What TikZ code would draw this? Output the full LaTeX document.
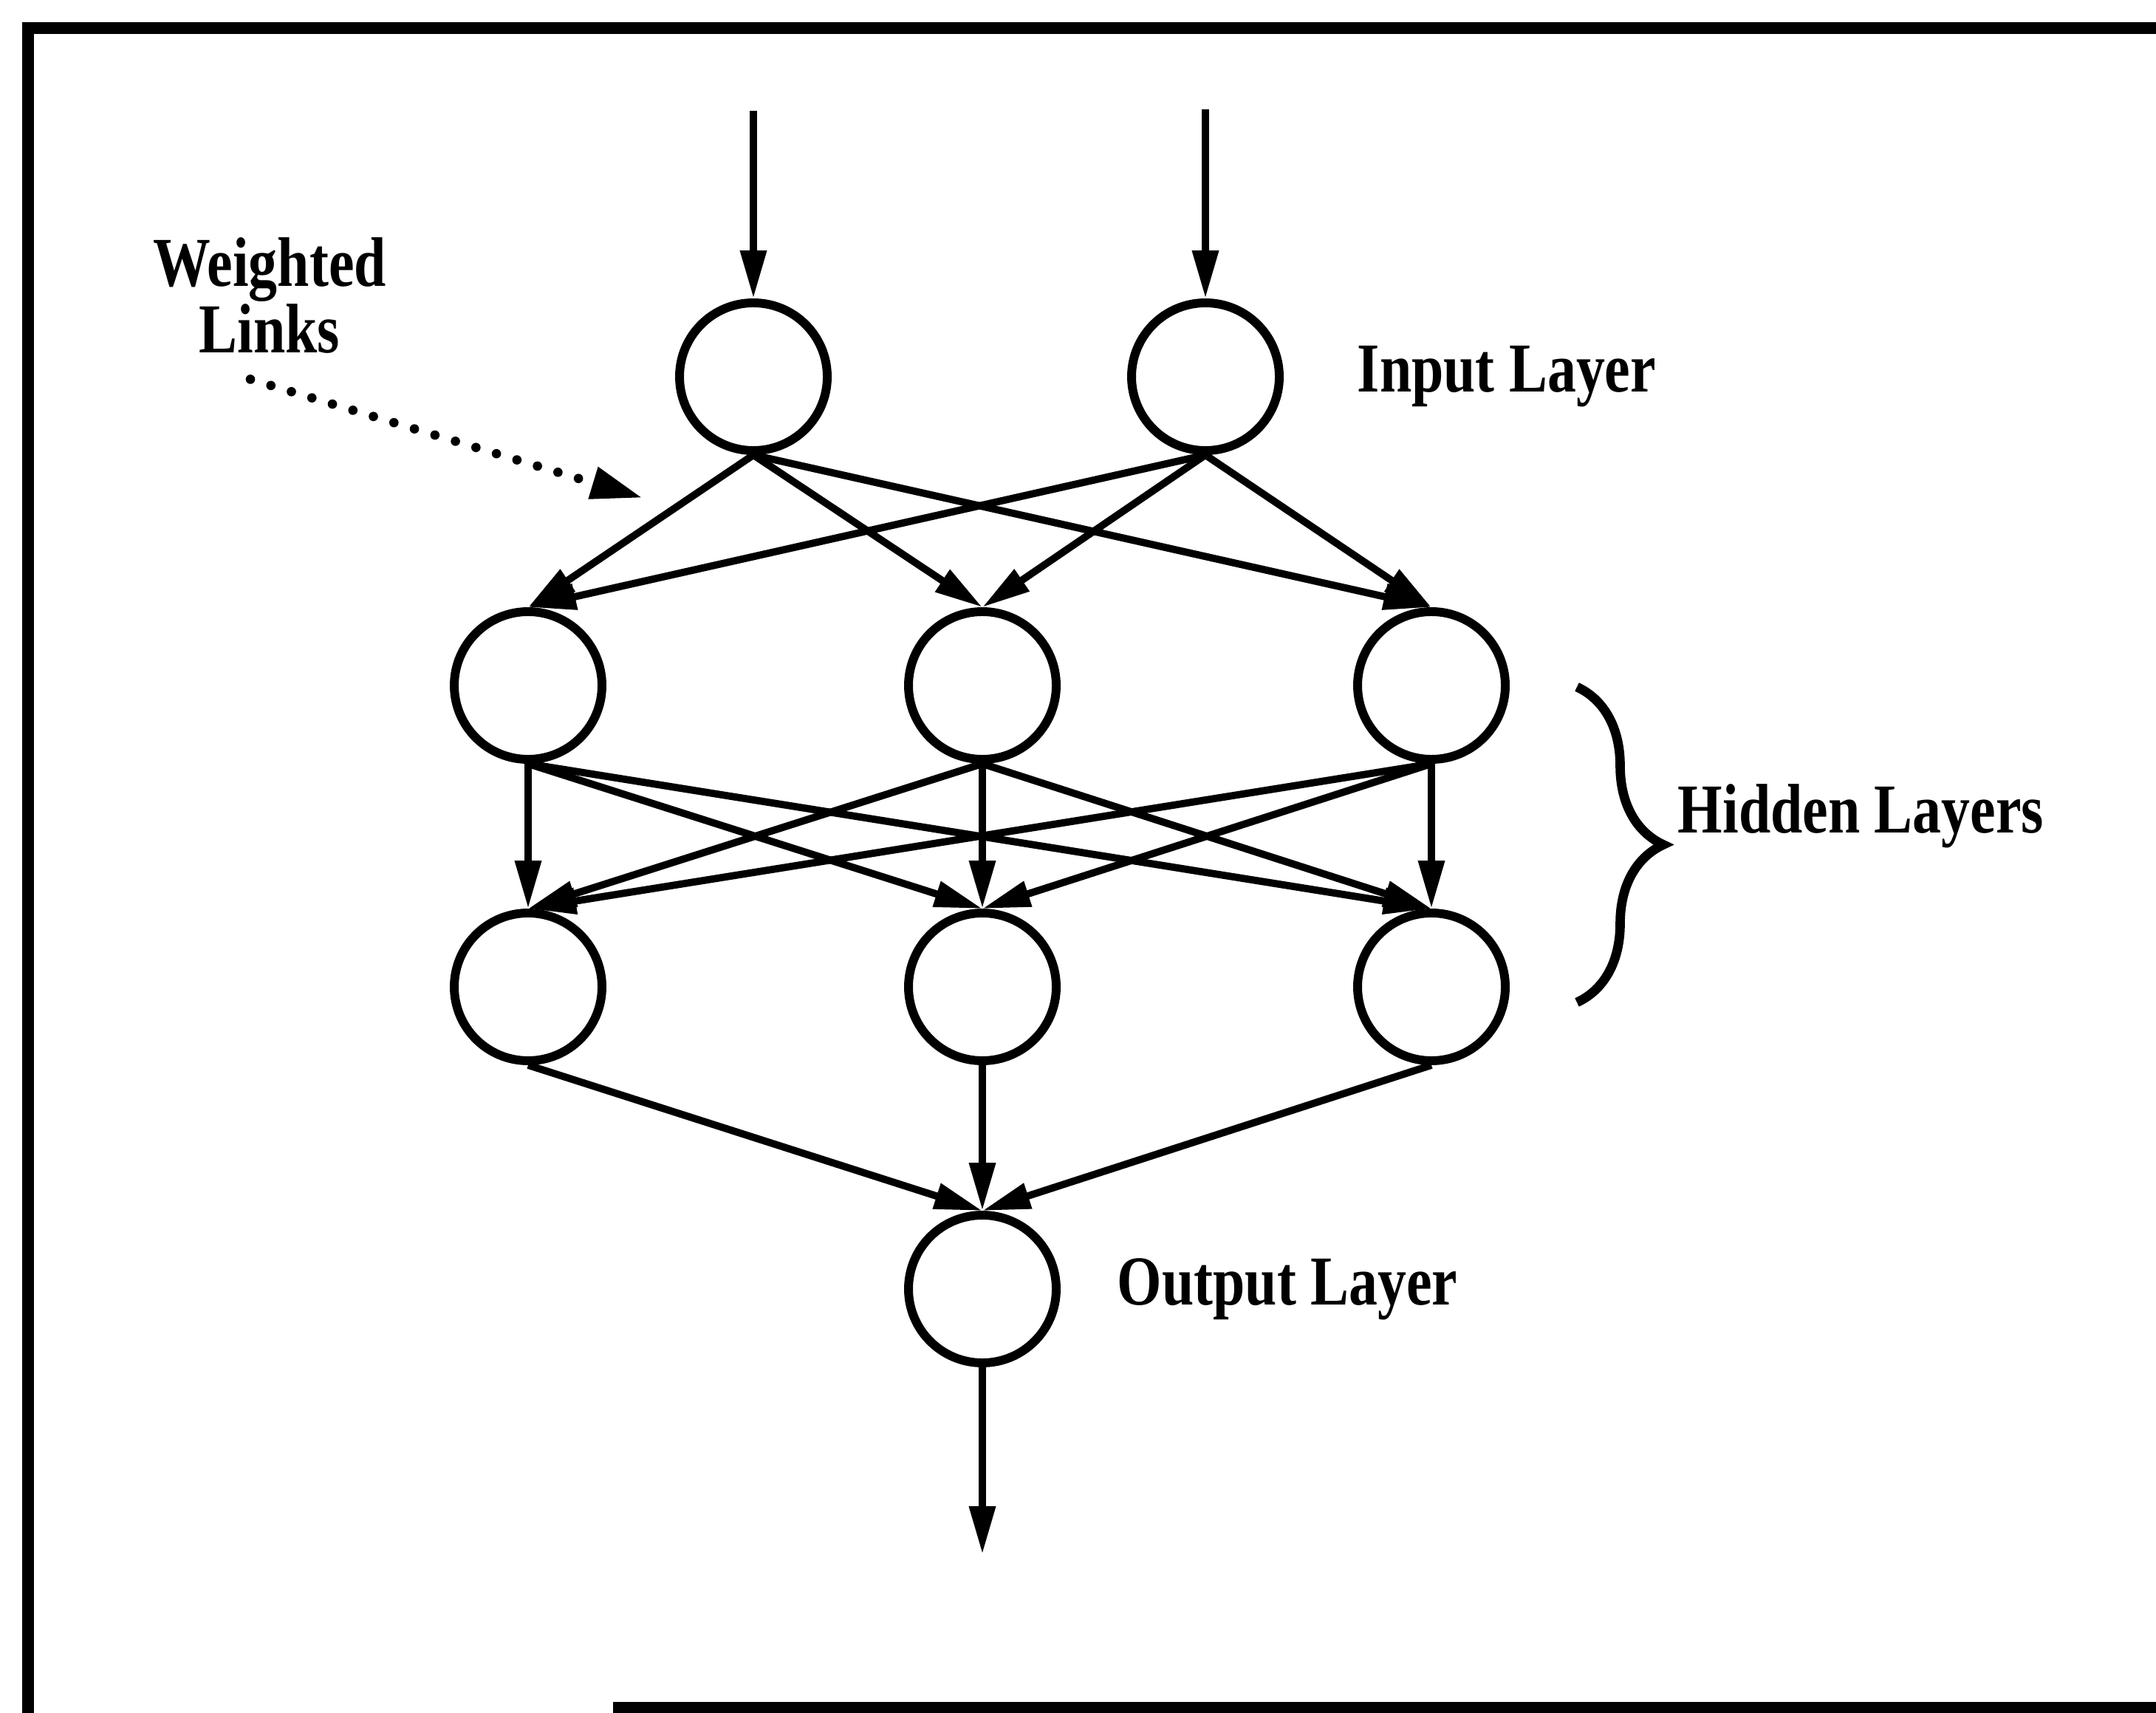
\documentclass[tikz,border=0pt]{standalone}
\usepackage{fontspec}
\setmainfont{Liberation Serif}[FakeStretch=0.82]
\usetikzlibrary{arrows.meta,positioning,decorations.pathreplacing}

\begin{document}
\begin{tikzpicture}[>={Triangle[length=6.5mm,width=3.4mm]}, line width=2.8pt]
\tikzstyle{neuron}=[draw, circle, line width=3.4pt, minimum size=2cm, inner sep=0pt]
\tikzstyle{lbl}=[font=\fontsize{27}{22}\selectfont\bfseries, inner sep=0pt]
\tikzstyle{frame}=[line width=4.3pt]
\tikzstyle{pointer}=[line width=3.6pt, line cap=round, dash pattern=on 0pt off 2.9mm, -{Triangle[length=7mm,width=4.2mm]}]

\useasboundingbox (0,0) rectangle (29.19,-23.19);

% frame (open on the right)
\draw[frame] (0.38,-23.19) -- (0.38,-0.38) -- (29.19,-0.38);
\draw[frame] (8.3,-23.12) -- (29.19,-23.12);

% input layer
\node[neuron] (i1) at (10.2,-5.1) {};
\node[neuron] (i2) at (16.32,-5.1) {};
% hidden layers
\node[neuron] (h1) at (7.15,-9.28) {};
\node[neuron] (h2) at (13.3,-9.28) {};
\node[neuron] (h3) at (19.38,-9.28) {};
\node[neuron] (g1) at (7.15,-13.36) {};
\node[neuron] (g2) at (13.3,-13.36) {};
\node[neuron] (g3) at (19.38,-13.36) {};
% output layer
\node[neuron] (o) at (13.3,-17.45) {};

\coordinate (x1) at (10.2,-1.5);
\coordinate (x2) at (16.32,-1.48);
\coordinate (y) at (13.3,-21.04);

\node[lbl, right=0.95cm of i2] (inl) {Input Layer};
\node[lbl, right=0.72cm of o] (outl) {Output Layer};
\node[lbl, anchor=west] (hidl) at (22.67,-11.05) {Hidden Layers};
\node[lbl, align=center] (wl) at (3.65,-4.0) {Weighted\\Links};

\coordinate (bt) at (21.35,-9.3);
\coordinate (bb) at (21.35,-13.57);
\coordinate (wtip) at (8.7,-6.74);

\draw[->] (x1) -- (i1);
\draw[->] (x2) -- (i2);

\draw[->] (i1.south) -- (h1.north);
\draw[->] (i1.south) -- (h2.north);
\draw[->] (i1.south) -- (h3.north);
\draw[->] (i2.south) -- (h1.north);
\draw[->] (i2.south) -- (h2.north);
\draw[->] (i2.south) -- (h3.north);

\draw[->] (h1.south) -- (g1.north);
\draw[->] (h1.south) -- (g2.north);
\draw[->] (h1.south) -- (g3.north);
\draw[->] (h2.south) -- (g1.north);
\draw[->] (h2.south) -- (g2.north);
\draw[->] (h2.south) -- (g3.north);
\draw[->] (h3.south) -- (g1.north);
\draw[->] (h3.south) -- (g2.north);
\draw[->] (h3.south) -- (g3.north);

\draw[->] (g1.south) -- (o.north);
\draw[->] (g2.south) -- (o.north);
\draw[->] (g3.south) -- (o.north);

\draw[->] (o) -- (y);

\draw[line width=3.6pt, decorate, decoration={brace, amplitude=1.17cm}] (bt) -- (bb);
\draw[pointer] ([shift={(-0.26,-0.3)}]wl.south) -- (wtip);
\end{tikzpicture}
\end{document}
